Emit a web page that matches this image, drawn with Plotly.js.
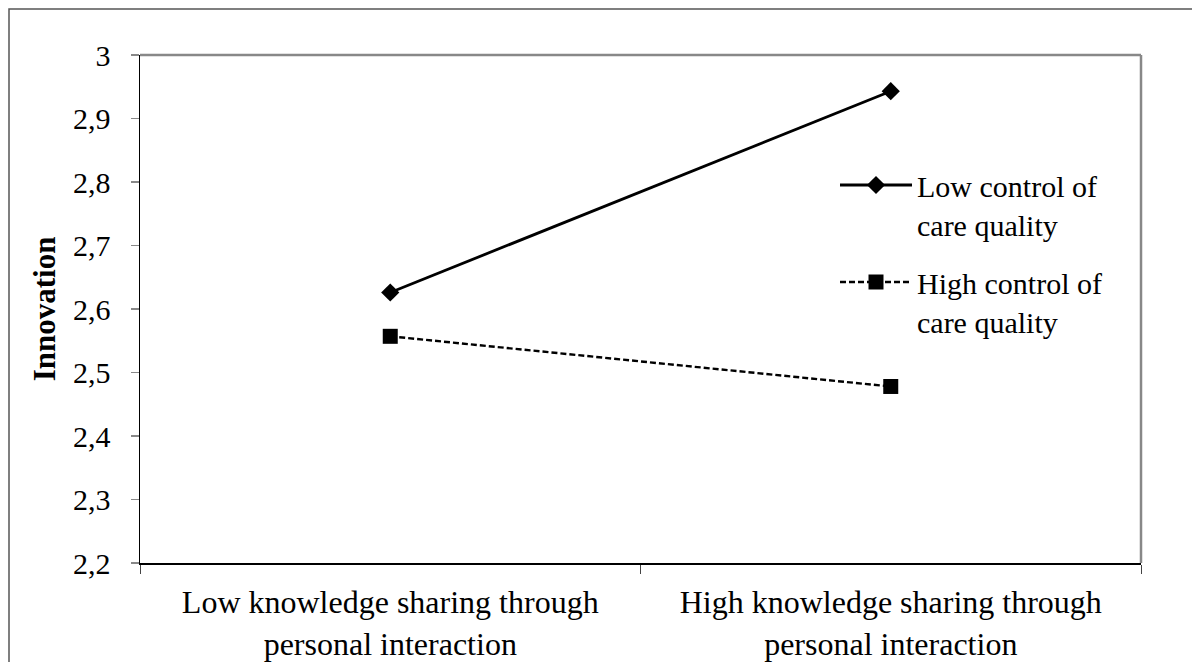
<!DOCTYPE html>
<html>
<head>
<meta charset="utf-8">
<script src="https://cdn.plot.ly/plotly-3.0.1.min.js"></script>
<style>html,body{margin:0;padding:0;background:#fff;}#chart{width:1192px;height:662px;}</style>
</head>
<body>
<div id="chart"></div>
<script>
const categories = ["Low knowledge sharing through<br>personal interaction", "High knowledge sharing through<br>personal interaction"];
const lowControl = [2.626, 2.943];
const highControl = [2.557, 2.478];
const seriesNames = ["Low control of<br>care quality", "High control of<br>care quality"];
const yTickVals = [2.2, 2.3, 2.4, 2.5, 2.6, 2.7, 2.8, 2.9, 3];
const yTickText = ["2,2", "2,3", "2,4", "2,5", "2,6", "2,7", "2,8", "2,9", "3"];

const W = 1192, H = 662, L = 140, R = 51, T = 55, B = 99;
const pw = W - L - R, ph = H - T - B;
const px = x => (x - L) / pw;
const py = y => (H - B - y) / ph;

const fam = "Liberation Serif, Times New Roman, serif";
const font = {family: fam, size: 30, color: "#000"};

const traces = [
  {x: categories, y: lowControl, name: seriesNames[0], legendgroup: "a", type: "scatter", mode: "lines+markers",
   line: {color: "#000", width: 2.8}, marker: {symbol: "diamond", size: 14, color: "#000"}},
  {x: categories, y: highControl, name: seriesNames[1], legendgroup: "b", type: "scatter", mode: "lines+markers",
   line: {color: "#000", width: 2.4, dash: "6px,3px"}, marker: {symbol: "square", size: 15, color: "#000"}}
];

const layout = {
  width: W, height: H,
  margin: {l: L, r: R, t: T, b: B},
  paper_bgcolor: "#fff", plot_bgcolor: "#fff",
  font: font,
  showlegend: true,
  legend: {x: px(835), y: py(159), xanchor: "left", yanchor: "top", font: font,
           bgcolor: "rgba(0,0,0,0)", traceorder: "grouped", tracegroupgap: 16, itemwidth: 72, valign: "top"},
  xaxis: {type: "category", range: [-0.5, 1.5], showline: true, linecolor: "#000", linewidth: 1.5,
          ticks: "outside", tickson: "boundaries", ticklen: 9, tickcolor: "#444", tickwidth: 1,
          ticklabelstandoff: 10,
          showgrid: false, zeroline: false, tickfont: {family: fam, size: 32, color: "#000"}, fixedrange: true},
  yaxis: {range: [2.2, 3], tickvals: yTickVals, ticktext: yTickText,
          showline: true, linecolor: "#000", linewidth: 1.5,
          ticks: "outside", ticklen: 8, tickcolor: "#888", tickwidth: 1.5,
          ticklabelstandoff: 14,
          showgrid: false, zeroline: false, tickfont: font,
          title: {text: "<b>Innovation</b>", font: {family: fam, size: 31, color: "#000"}, standoff: 8}},
  shapes: [
    {type: "line", xref: "paper", yref: "paper", x0: 0, x1: 1, y0: 1, y1: 1, line: {color: "#888", width: 2.5}},
    {type: "line", xref: "paper", yref: "paper", x0: 1, x1: 1, y0: 0, y1: 1, line: {color: "#888", width: 2.5}},
    {type: "rect", xref: "paper", yref: "paper", x0: px(9), x1: px(1230), y0: py(700), y1: py(9),
     line: {color: "#555", width: 1.5}, layer: "below"}
  ]
};

Plotly.newPlot("chart", traces, layout, {displayModeBar: false, staticPlot: true});
</script>
</body>
</html>
